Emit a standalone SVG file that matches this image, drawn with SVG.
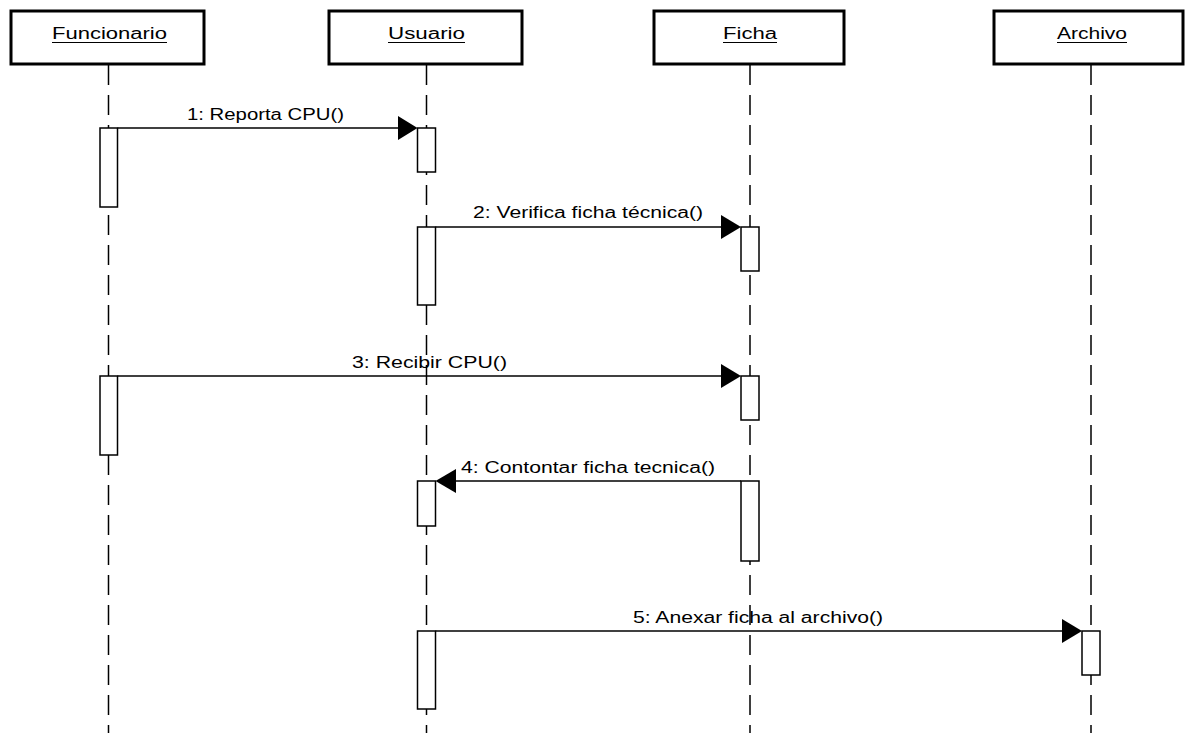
<svg xmlns="http://www.w3.org/2000/svg" width="1186" height="733" viewBox="0 0 1186 733">
  <style>
    .obj { fill: #ffffff; stroke: #000000; stroke-width: 3; }
    .name { font-family: "Liberation Sans", Arial, sans-serif; font-size: 16px; fill: #000000; text-anchor: start; }
    .uline { stroke: #000000; stroke-width: 1.2; }
    .life { stroke: #000000; stroke-width: 1.5; stroke-dasharray: 20 10; fill: none; }
    .act { fill: #ffffff; stroke: #000000; stroke-width: 1.5; }
    .msg { stroke: #000000; stroke-width: 1.5; fill: none; }
    .head { fill: #000000; stroke: none; }
    .lbl { font-family: "Liberation Sans", Arial, sans-serif; font-size: 16px; fill: #000000; }
  </style>

  <rect width="1186" height="733" fill="#ffffff"/>

  <!-- lifelines -->
  <g id="lifelines">
    <line class="life" x1="108.5" y1="65" x2="108.5" y2="733"/>
    <line class="life" x1="426.5" y1="65" x2="426.5" y2="733"/>
    <line class="life" x1="750" y1="65" x2="750" y2="733"/>
    <line class="life" x1="1091" y1="65" x2="1091" y2="733"/>
  </g>

  <!-- objects -->
  <g id="funcionario">
    <rect class="obj" x="11" y="11" width="193" height="53"/>
    <text class="name" x="52" y="39" textLength="115" lengthAdjust="spacingAndGlyphs">Funcionario</text>
    <line class="uline" x1="52" y1="42.5" x2="167" y2="42.5"/>
  </g>
  <g id="usuario">
    <rect class="obj" x="329" y="11" width="193" height="53"/>
    <text class="name" x="388" y="39" textLength="77" lengthAdjust="spacingAndGlyphs">Usuario</text>
    <line class="uline" x1="388" y1="42.5" x2="465" y2="42.5"/>
  </g>
  <g id="ficha">
    <rect class="obj" x="654" y="11" width="190" height="53"/>
    <text class="name" x="723" y="39" textLength="54" lengthAdjust="spacingAndGlyphs">Ficha</text>
    <line class="uline" x1="723" y1="42.5" x2="777" y2="42.5"/>
  </g>
  <g id="archivo">
    <rect class="obj" x="994" y="11" width="189" height="53"/>
    <text class="name" x="1057" y="39" textLength="70" lengthAdjust="spacingAndGlyphs">Archivo</text>
    <line class="uline" x1="1057" y1="42.5" x2="1127" y2="42.5"/>
  </g>

  <!-- activation bars -->
  <g id="activations">
    <rect class="act" x="100" y="128" width="17.5" height="79"/>
    <rect class="act" x="100" y="376" width="17.5" height="79"/>
    <rect class="act" x="417.5" y="128" width="18" height="44"/>
    <rect class="act" x="417.5" y="227" width="18" height="78"/>
    <rect class="act" x="417.5" y="481" width="18" height="45"/>
    <rect class="act" x="417.5" y="631" width="18" height="78"/>
    <rect class="act" x="741" y="227" width="18" height="44"/>
    <rect class="act" x="741" y="376" width="18" height="44"/>
    <rect class="act" x="741" y="481" width="18" height="80"/>
    <rect class="act" x="1082" y="631" width="18" height="44"/>
  </g>

  <!-- messages -->
  <g id="connectors">
    <line class="msg" x1="117.5" y1="128" x2="400" y2="128"/>
    <polygon class="head" points="417.5,128 398,116 398,140"/>
    <text class="lbl" x="187" y="120" textLength="157" lengthAdjust="spacingAndGlyphs">1: Reporta CPU()</text>

    <line class="msg" x1="435.5" y1="227" x2="724" y2="227"/>
    <polygon class="head" points="741,227 721,215 721,239"/>
    <text class="lbl" x="473" y="218" textLength="230" lengthAdjust="spacingAndGlyphs">2: Verifica ficha técnica()</text>

    <line class="msg" x1="117.5" y1="376" x2="724" y2="376"/>
    <polygon class="head" points="741,376 721,364 721,388"/>
    <text class="lbl" x="352" y="368" textLength="155" lengthAdjust="spacingAndGlyphs">3: Recibir CPU()</text>

    <line class="msg" x1="741" y1="481" x2="453" y2="481"/>
    <polygon class="head" points="435.5,481 456,469 456,493"/>
    <text class="lbl" x="461" y="473" textLength="254" lengthAdjust="spacingAndGlyphs">4: Contontar ficha tecnica()</text>

    <line class="msg" x1="435.5" y1="631" x2="1065" y2="631"/>
    <polygon class="head" points="1082,631 1062,619 1062,643"/>
    <text class="lbl" x="633" y="623" textLength="250" lengthAdjust="spacingAndGlyphs">5: Anexar ficha al archivo()</text>
  </g>
</svg>
